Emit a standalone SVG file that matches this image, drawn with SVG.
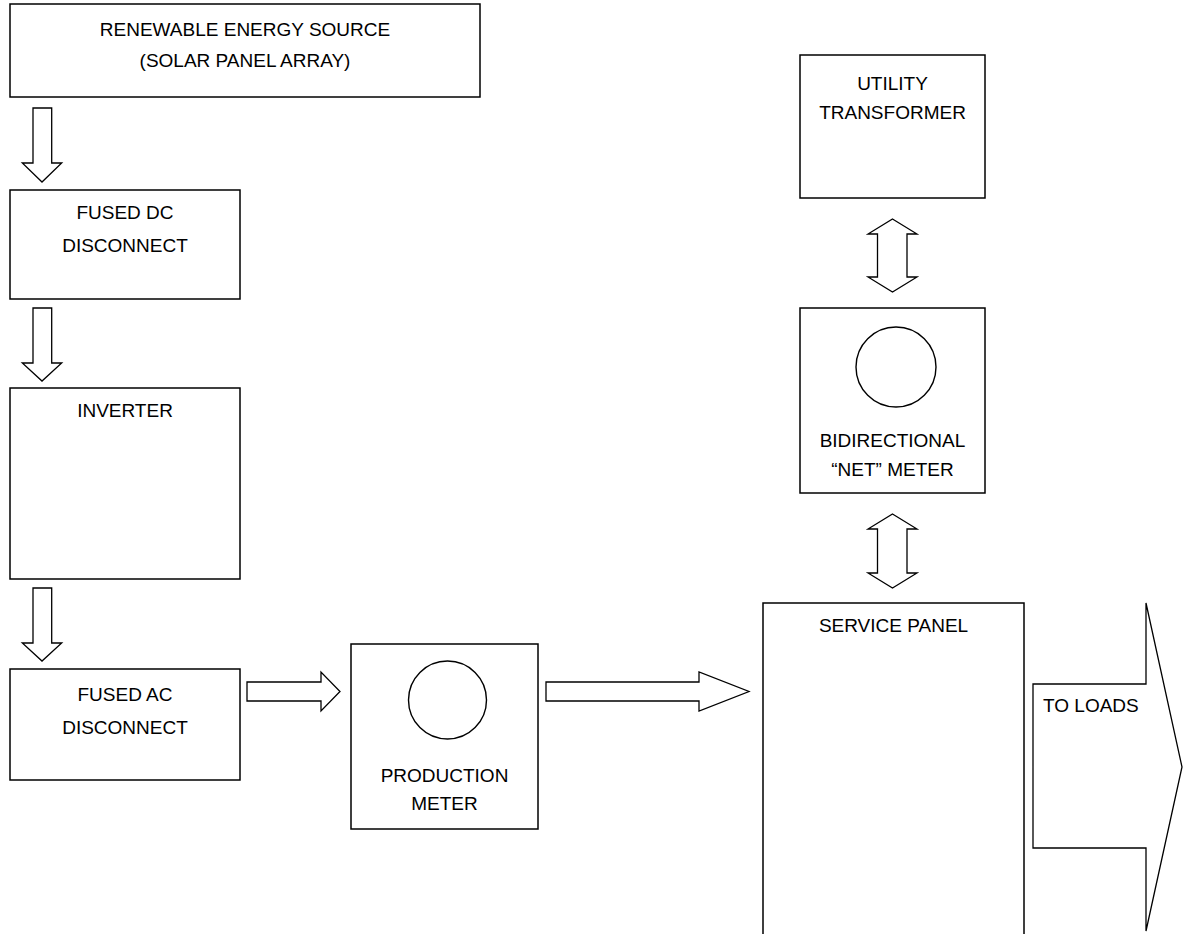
<svg xmlns="http://www.w3.org/2000/svg" width="1183" height="934" viewBox="0 0 1183 934">
<style>
.box{fill:#fff;stroke:#000;stroke-width:1.5}
.arr{fill:#fff;stroke:#000;stroke-width:1.3;stroke-linejoin:miter}
.ring{fill:none;stroke:#000;stroke-width:1.4}
text{font-family:"Liberation Sans",Arial,sans-serif;font-size:19px;fill:#000;text-anchor:middle}
</style>
<rect width="1183" height="934" fill="#fff"/>
<g id="connectors">
<path class="arr" d="M33,108 H51.7 V163 H61.7 L42,182 L22.3,163 H33 Z"/>
<path class="arr" d="M33,308 H51.7 V363 H61.7 L42,381 L22.3,363 H33 Z"/>
<path class="arr" d="M33,588 H51.7 V643 H61.7 L42,661 L22.3,643 H33 Z"/>
<path class="arr" d="M247,682 H321 V672 L340,691.5 L321,711 V701 H247 Z"/>
<path class="arr" d="M546,682 H699 V672 L749,691.5 L699,711 V701 H546 Z"/>
<path class="arr" d="M892.5,219 L917,234 H907 V277 H917 L892.5,292 L868,277 H877.5 V234 H868 Z"/>
<path class="arr" d="M892.5,514 L917,529 H907 V573 H917 L892.5,588 L868,573 H877.5 V529 H868 Z"/>
<path class="arr" d="M1033,684 H1146 V603 L1182,767 L1146,931 V848 H1033 Z"/>
</g>
<g id="source">
<rect class="box" x="10" y="4" width="470" height="93"/>
<text x="245" y="36">RENEWABLE ENERGY SOURCE</text>
<text x="245" y="67">(SOLAR PANEL ARRAY)</text>
</g>
<g id="dc-disconnect">
<rect class="box" x="10" y="190" width="230" height="109"/>
<text x="125" y="219">FUSED DC</text>
<text x="125" y="252">DISCONNECT</text>
</g>
<g id="inverter">
<rect class="box" x="10" y="388" width="230" height="191"/>
<text x="125" y="417">INVERTER</text>
</g>
<g id="ac-disconnect">
<rect class="box" x="10" y="669" width="230" height="111"/>
<text x="125" y="701">FUSED AC</text>
<text x="125" y="734">DISCONNECT</text>
</g>
<g id="production-meter">
<rect class="box" x="351" y="644" width="187" height="185"/>
<circle class="ring" cx="447.5" cy="700" r="39"/>
<text x="444.5" y="782">PRODUCTION</text>
<text x="444.5" y="810">METER</text>
</g>
<g id="utility-transformer">
<rect class="box" x="800" y="55" width="185" height="143"/>
<text x="892.5" y="90">UTILITY</text>
<text x="892.5" y="119">TRANSFORMER</text>
</g>
<g id="net-meter">
<rect class="box" x="800" y="308" width="185" height="185"/>
<circle class="ring" cx="896" cy="367" r="40"/>
<text x="892.5" y="447">BIDIRECTIONAL</text>
<text x="892.5" y="476">“NET” METER</text>
</g>
<g id="service-panel">
<rect class="box" x="763" y="603" width="261" height="340"/>
<text x="893.5" y="632">SERVICE PANEL</text>
</g>
<g id="to-loads">
<text x="1043" y="712" style="text-anchor:start">TO LOADS</text>
</g>
</svg>
